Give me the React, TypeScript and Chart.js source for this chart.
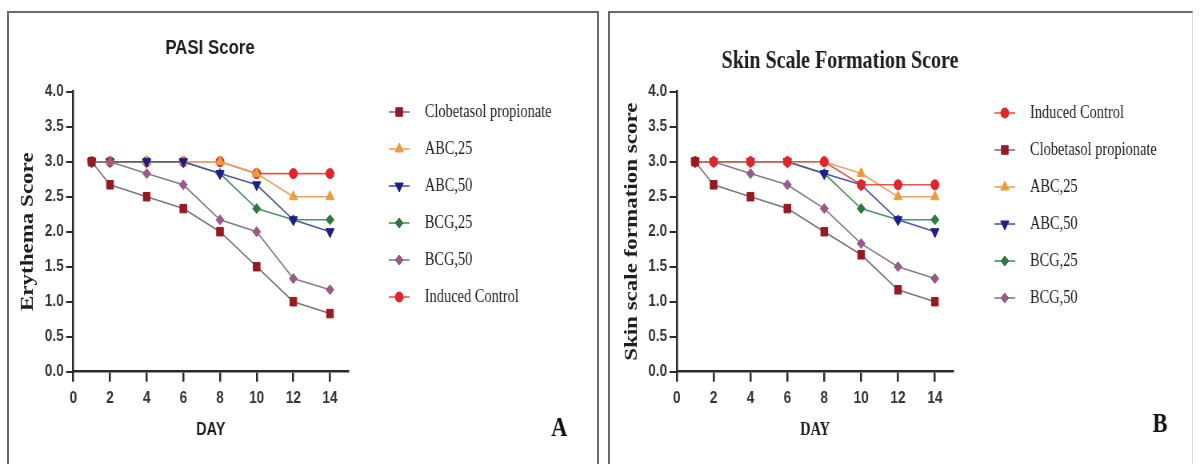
import React, { useEffect, useRef } from 'react';
import { Chart, registerables } from 'chart.js';
import { drawPoint } from 'chart.js/helpers';

Chart.register(...registerables);

// ---------------- data ----------------
const DAYS = [1, 2, 4, 6, 8, 10, 12, 14];
const X_TICKS = [0, 2, 4, 6, 8, 10, 12, 14];
const Y_TICKS = [0, 0.5, 1, 1.5, 2, 2.5, 3, 3.5, 4];
const X_MAX = 15;
const Y_MAX = 4;

// Panel A: PASI score (erythema)
const PASI_CLOBETASOL = [3.0, 2.67, 2.5, 2.33, 2.0, 1.5, 1.0, 0.83];
const PASI_ABC25 = [3.0, 3.0, 3.0, 3.0, 3.0, 2.83, 2.5, 2.5];
const PASI_ABC50 = [3.0, 3.0, 3.0, 3.0, 2.83, 2.67, 2.17, 2.0];
const PASI_BCG25 = [3.0, 3.0, 3.0, 3.0, 2.83, 2.33, 2.17, 2.17];
const PASI_BCG50 = [3.0, 3.0, 2.83, 2.67, 2.17, 2.0, 1.33, 1.17];
const PASI_INDUCED = [3.0, 3.0, 3.0, 3.0, 3.0, 2.83, 2.83, 2.83];

// Panel B: skin scale formation score
const SCALE_INDUCED = [3.0, 3.0, 3.0, 3.0, 3.0, 2.67, 2.67, 2.67];
const SCALE_CLOBETASOL = [3.0, 2.67, 2.5, 2.33, 2.0, 1.67, 1.17, 1.0];
const SCALE_ABC25 = [3.0, 3.0, 3.0, 3.0, 3.0, 2.83, 2.5, 2.5];
const SCALE_ABC50 = [3.0, 3.0, 3.0, 3.0, 2.83, 2.67, 2.17, 2.0];
const SCALE_BCG25 = [3.0, 3.0, 3.0, 3.0, 2.83, 2.33, 2.17, 2.17];
const SCALE_BCG50 = [3.0, 3.0, 2.83, 2.67, 2.33, 1.83, 1.5, 1.33];

const LEGEND_A = ['Clobetasol propionate', 'ABC,25', 'ABC,50', 'BCG,25', 'BCG,50', 'Induced Control'];
const LEGEND_B = ['Induced Control', 'Clobetasol propionate', 'ABC,25', 'ABC,50', 'BCG,25', 'BCG,50'];

// drawing order (first = on top)
const DRAW_A = ['Clobetasol propionate', 'BCG,50', 'ABC,50', 'ABC,25', 'BCG,25', 'Induced Control'];
const DRAW_B = ['Clobetasol propionate', 'Induced Control', 'BCG,50', 'ABC,25', 'ABC,50', 'BCG,25'];

// ---------------- styles ----------------
const STYLE: Record<string, any> = {
  'Clobetasol propionate': { color: '#961a22', line: '#7a7482', pointStyle: 'rect', radius: 6, rotation: 0 },
  'ABC,25': { color: '#f09a3c', line: '#eba262', pointStyle: 'triangle', radius: 6, rotation: 0 },
  'ABC,50': { color: '#1c1e8a', line: '#4a58a0', pointStyle: 'triangle', radius: 6, rotation: 180 },
  'BCG,25': { color: '#2e7a3c', line: '#4f8f6a', pointStyle: 'rectRot', radius: 5, rotation: 0 },
  'BCG,50': { color: '#9a5a88', line: '#857890', pointStyle: 'rectRot', radius: 5, rotation: 0 },
  'Induced Control': { color: '#e0262a', line: '#e2584e', pointStyle: 'circle', radius: 5, rotation: 0 },
};

const SX = 0.8; // horizontal compression of the original figure
const CW = 750; // logical canvas width (600 px on page)
const CH = 464;
const PLOT_TOP = 91.7;
const PLOT_BOTTOM = 371.7;
const AXIS = '#2a2a2a';
const TEXT = '#1e1e1e';
const SANS = '"Liberation Sans", Arial, sans-serif';
const SERIF = '"Liberation Serif", "Times New Roman", serif';

const PANELS = [
  {
    key: 'A',
    pageLeft: 0,
    series: {
      'Clobetasol propionate': PASI_CLOBETASOL,
      'ABC,25': PASI_ABC25,
      'ABC,50': PASI_ABC50,
      'BCG,25': PASI_BCG25,
      'BCG,50': PASI_BCG50,
      'Induced Control': PASI_INDUCED,
    } as Record<string, number[]>,
    drawOrder: DRAW_A,
    legend: LEGEND_A,
    title: 'PASI Score',
    titleFont: `bold 21px ${SANS}`,
    titleX: 262.5,
    titleY: 48,
    yTitle: 'Erythema Score',
    xTitleFont: { family: SANS, size: 18, weight: 'bold' },
    padLeft: 21,
    plotLeft: 91.7,
    plotRight: 435.4,
    legendX: 499,
    legendTextX: 531,
    legendY0: 112,
    legendDy: 37,
    letterX: 699,
    letterY: 429,
  },
  {
    key: 'B',
    pageLeft: 600,
    series: {
      'Clobetasol propionate': SCALE_CLOBETASOL,
      'ABC,25': SCALE_ABC25,
      'ABC,50': SCALE_ABC50,
      'BCG,25': SCALE_BCG25,
      'BCG,50': SCALE_BCG50,
      'Induced Control': SCALE_INDUCED,
    } as Record<string, number[]>,
    drawOrder: DRAW_B,
    legend: LEGEND_B,
    title: 'Skin Scale Formation Score',
    titleFont: `bold 25px ${SERIF}`,
    titleX: 300,
    titleY: 62,
    yTitle: 'Skin scale formation score',
    xTitleFont: { family: SERIF, size: 18, weight: 'bold' },
    padLeft: 26,
    plotLeft: 95.9,
    plotRight: 441.7,
    legendX: 506,
    legendTextX: 537.5,
    legendY0: 113,
    legendDy: 37,
    letterX: 700,
    letterY: 425,
  },
];

function makeExtras(p: any) {
  return {
    id: 'panelExtras' + p.key,
    afterDraw(chart: any) {
      const ctx = chart.ctx;
      ctx.save();
      // title
      ctx.fillStyle = TEXT;
      ctx.font = p.titleFont;
      ctx.textAlign = 'center';
      ctx.textBaseline = 'middle';
      ctx.fillText(p.title, p.titleX, p.titleY);
      // legend
      p.legend.forEach((name: string, i: number) => {
        const st = STYLE[name];
        const y = p.legendY0 + i * p.legendDy;
        ctx.strokeStyle = st.line;
        ctx.lineWidth = 1.6;
        ctx.beginPath();
        ctx.moveTo(p.legendX - 13, y);
        ctx.lineTo(p.legendX + 13, y);
        ctx.stroke();
        ctx.fillStyle = st.color;
        ctx.strokeStyle = st.color;
        ctx.lineWidth = 1;
        drawPoint(ctx, { pointStyle: st.pointStyle, radius: st.radius, rotation: st.rotation, borderWidth: 1 }, p.legendX, y);
        ctx.fillStyle = TEXT;
        ctx.font = `18px ${SERIF}`;
        ctx.textAlign = 'left';
        ctx.textBaseline = 'middle';
        ctx.fillText(name, p.legendTextX, y);
      });
      // panel letter
      ctx.fillStyle = '#111';
      ctx.font = `bold 28px ${SERIF}`;
      ctx.textAlign = 'center';
      ctx.textBaseline = 'middle';
      ctx.fillText(p.key, p.letterX, p.letterY);
      ctx.restore();
    },
  };
}

function buildConfig(p: any): any {
  const tickFont = { family: SANS, size: 17, weight: 'bold' };
  return {
    type: 'line',
    data: {
      datasets: p.drawOrder.map((name: string) => {
        const st = STYLE[name];
        const vals = p.series[name];
        return {
          label: name,
          data: DAYS.map((d, i) => ({ x: d, y: vals[i] })),
          borderColor: st.line,
          backgroundColor: st.color,
          borderWidth: 1.6,
          pointBackgroundColor: st.color,
          pointBorderColor: st.color,
          pointBorderWidth: 1,
          pointStyle: st.pointStyle,
          pointRadius: st.radius,
          pointRotation: st.rotation,
          tension: 0,
          fill: false,
        };
      }),
    },
    options: {
      responsive: false,
      animation: false,
      devicePixelRatio: 1,
      layout: { padding: { left: p.padLeft, top: PLOT_TOP, right: CW - p.plotRight, bottom: 0 } },
      plugins: { legend: { display: false }, tooltip: { enabled: false }, title: { display: false } },
      scales: {
        x: {
          type: 'linear',
          min: 0,
          max: X_MAX,
          afterBuildTicks: (s: any) => {
            s.ticks = X_TICKS.map((v) => ({ value: v }));
          },
          afterFit: (s: any) => {
            s.height = CH - PLOT_BOTTOM;
          },
          ticks: { font: tickFont, color: '#333', padding: 6, maxRotation: 0, autoSkip: false },
          grid: { drawOnChartArea: false, drawTicks: true, tickLength: 10, color: AXIS, lineWidth: 2.5 },
          border: { display: true, color: AXIS, width: 2.5 },
          title: { display: true, text: 'DAY', font: p.xTitleFont, color: TEXT, padding: { top: 0, bottom: 23 } },
        },
        y: {
          type: 'linear',
          min: 0,
          max: Y_MAX,
          afterBuildTicks: (s: any) => {
            s.ticks = Y_TICKS.map((v) => ({ value: v }));
          },
          afterFit: (s: any) => {
            s.width = p.plotLeft - p.padLeft;
          },
          ticks: { font: tickFont, color: '#333', padding: 3, callback: (v: any) => Number(v).toFixed(1) },
          grid: { drawOnChartArea: false, drawTicks: true, tickLength: 9, color: AXIS, lineWidth: 2 },
          border: { display: true, color: AXIS, width: 2.5 },
          title: {
            display: true,
            text: p.yTitle,
            font: { family: SERIF, size: 23, weight: 'bold' },
            color: TEXT,
            padding: { top: 0, bottom: 0 },
          },
        },
      },
    },
    plugins: [makeExtras(p)],
  };
}

function Panel({ p }: { p: any }) {
  const ref = useRef<HTMLCanvasElement>(null);
  useEffect(() => {
    const chart = new Chart(ref.current as HTMLCanvasElement, buildConfig(p));
    return () => chart.destroy();
  }, []);
  return (
    <canvas
      ref={ref}
      width={CW}
      height={CH}
      style={{
        position: 'absolute',
        left: p.pageLeft,
        top: 0,
        width: CW,
        height: CH,
        transform: `scaleX(${SX})`,
        transformOrigin: '0 0',
      }}
    />
  );
}

export default function App() {
  const border = '2px solid #6a6a6a';
  return (
    <div
      style={{
        position: 'absolute',
        left: 0,
        top: 0,
        width: 1200,
        height: 464,
        overflow: 'hidden',
        background: '#fff',
      }}
    >
      <div style={{ position: 'absolute', left: 7, top: 11, width: 588, height: 470, borderLeft: border, borderTop: border, borderRight: border }} />
      <div style={{ position: 'absolute', left: 608, top: 11, width: 582, height: 470, borderLeft: border, borderTop: border, borderRight: '1px solid #dcdcdc' }} />
      {PANELS.map((p) => (
        <Panel key={p.key} p={p} />
      ))}
    </div>
  );
}
